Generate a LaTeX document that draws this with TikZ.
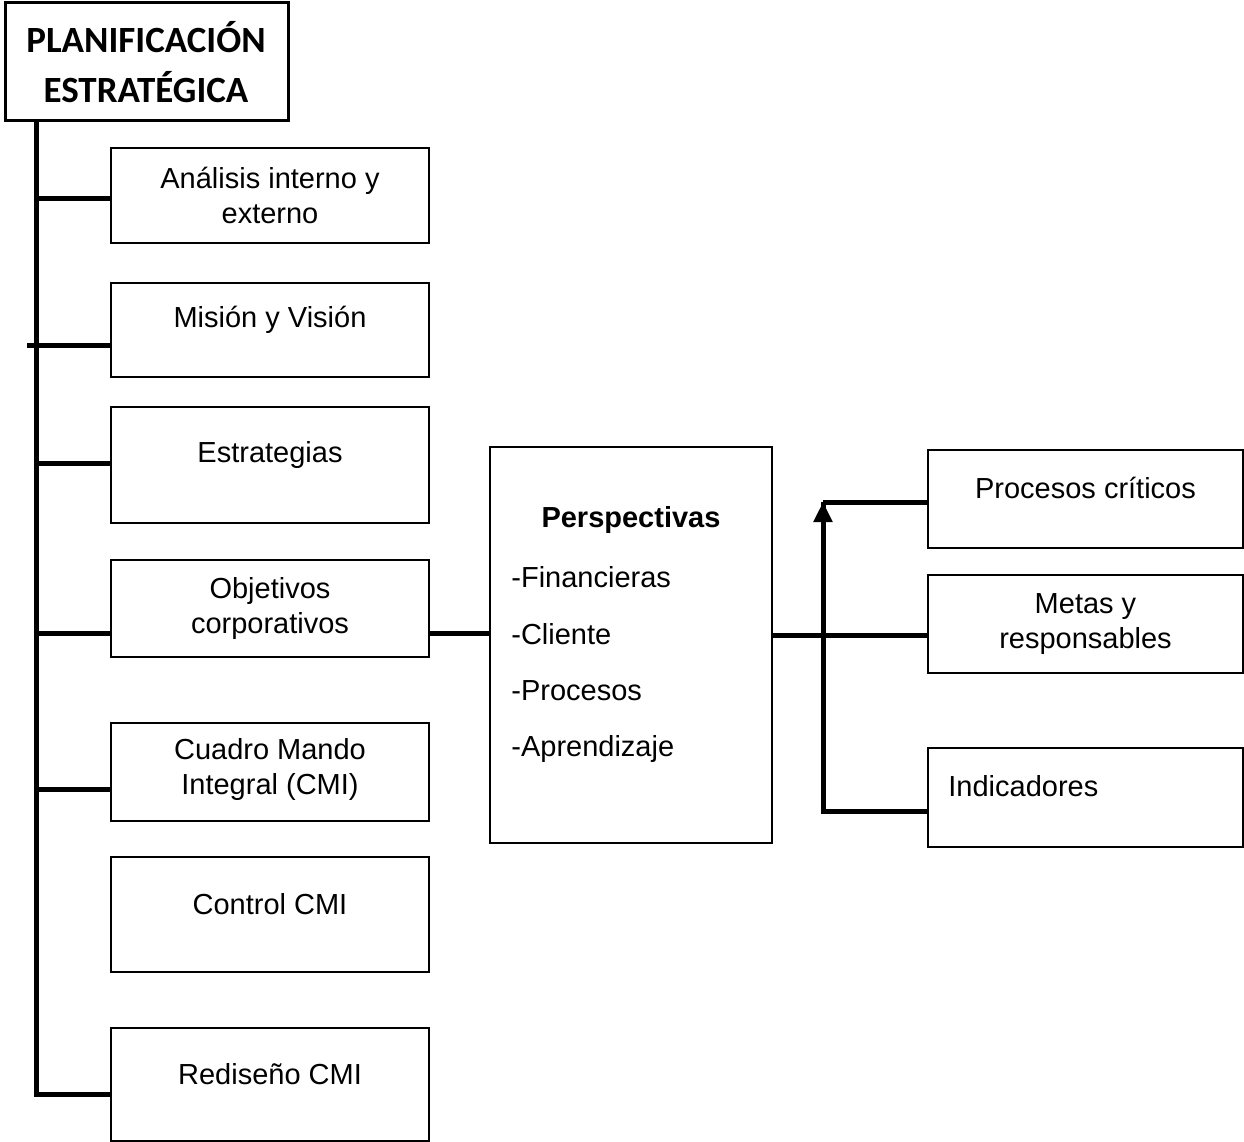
\documentclass[tikz,border=0pt]{standalone}
\usepackage{fontspec}
\setmainfont{Liberation Sans}
\newfontfamily\titlefont{Carlito}
\usetikzlibrary{arrows.meta}

\tikzset{
  box/.style={draw, line width=1pt, minimum width=159pt, inner sep=0pt},
  rbox/.style={draw, line width=1pt, minimum width=157.5pt, inner sep=0pt},
  txt/.style={align=center, inner sep=0pt, font=\fontsize{14.5}{17.5}\selectfont},
  conn/.style={line width=2.5pt},
}

\begin{document}
\begin{tikzpicture}[x=0.5pt, y=-0.5pt]
    \useasboundingbox (0,0) rectangle (1244,1142);

    % title
    \node[draw, line width=1.5pt, minimum width=141.5pt, minimum height=59pt] (title) at (146.5,61) {};
    \node[align=center, inner sep=0pt, font=\titlefont\bfseries\fontsize{18.5}{25}\selectfont] (title-t) at (146,62) {PLANIFICACIÓN\\ESTRATÉGICA};

    % left column
    \node[box, minimum height=47.5pt] (analisis) at (270,195.5) {};
    \node[box, minimum height=47pt] (mision) at (270,330) {};
    \node[box, minimum height=58pt] (estrategias) at (270,465) {};
    \node[box, minimum height=48.5pt] (objetivos) at (270,608.5) {};
    \node[box, minimum height=49pt] (cuadro) at (270,772) {};
    \node[box, minimum height=57.5pt] (control) at (270,914.5) {};
    \node[box, minimum height=56.5pt] (rediseno) at (270,1084) {};

    \node[txt] (analisis-t) at (analisis.center) {Análisis interno y\\externo};
    \node[txt, yshift=5pt] (mision-t) at (mision.center) {Misión y Visión};
    \node[txt, yshift=5pt] (estrategias-t) at (estrategias.center) {Estrategias};
    \node[txt] (objetivos-t) at (objetivos.center) {Objetivos\\corporativos};
    \node[txt, yshift=1.5pt] (cuadro-t) at (cuadro.center) {Cuadro Mando\\Integral (CMI)};
    \node[txt, yshift=5pt] (control-t) at (control.center) {Control CMI};
    \node[txt, yshift=5pt] (rediseno-t) at (rediseno.center) {Rediseño CMI};

    % perspectivas
    \node[draw, line width=1pt, minimum width=141pt, minimum height=198pt] (persp) at (631,645) {};
    \node[txt, font=\fontsize{14.5}{17.5}\selectfont\bfseries] (persp-t) at (631,520) {Perspectivas};
    \foreach \i/\y/\t in {1/577/Financieras, 2/634/Cliente, 3/691/Procesos, 4/749/Aprendizaje}
      \node[txt, anchor=west] (persp-\i) at (511,\y) {-\t};

    % right column
    \node[rbox, minimum height=49pt] (procesos) at (1085.5,499) {};
    \node[rbox, minimum height=49pt] (metas) at (1085.5,624) {};
    \node[rbox, minimum height=49.5pt] (indicadores) at (1085.5,797.5) {};

    \node[txt, yshift=5.5pt] (procesos-t) at (procesos.center) {Procesos críticos};
    \node[txt] (metas-t) at (metas.center) {Metas y\\responsables};
    \node[txt, anchor=west] (indicadores-t) at (948,786) {Indicadores};

    % spine
    \coordinate (spinetop) at (36,120);
    \coordinate (spinebot) at (36,1094);
    \draw[conn] (spinetop) -- (spinebot) -- (spinebot -| rediseno.west);
    \foreach \n/\y in {analisis/198, estrategias/463, objetivos/633, cuadro/789}
    {
      \coordinate (sp-\n) at (36,\y);
      \draw[conn] (sp-\n) -- (sp-\n -| \n.west);
    }
    \coordinate (sp-mision) at (27,345);
    \draw[conn] (sp-mision) -- (sp-mision -| mision.west);

    % objetivos -> perspectivas -> right column
    \coordinate (c1) at (objetivos.east |- 0,633);
    \draw[conn] (c1) -- (c1 -| persp.west);
    \coordinate (c2) at (persp.east |- 0,635);
    \draw[conn] (c2) -- (c2 -| metas.west);
    \coordinate (up) at (823,502);
    \coordinate (down) at (823,811);
    \draw[conn] (down -| indicadores.west) -- (down) -- (up);
    \draw[conn, -{Triangle[width=9pt,length=10pt]}] (down) -- (up);
    \draw[conn] (up) -- (up -| procesos.west);
\end{tikzpicture}
\end{document}
